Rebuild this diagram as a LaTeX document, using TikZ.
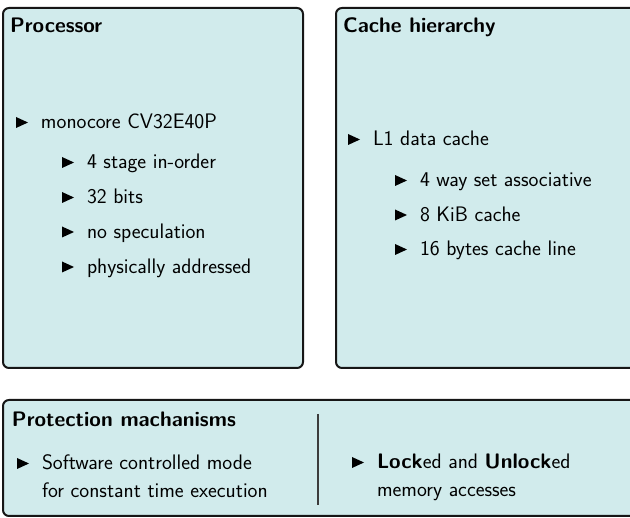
\documentclass[tikz,border=0pt]{standalone}
\usepackage{fontspec}
\definecolor{panelfill}{RGB}{209,235,236}
\definecolor{panelline}{RGB}{22,22,22}
\definecolor{rulegray}{RGB}{60,60,60}
\tikzset{
  panel/.style={draw=panelline, fill=panelfill, line width=2pt, rounded corners=6pt},
  txt/.style={anchor=base west, inner sep=0pt, outer sep=0pt, text=black,
    font=\sffamily\fontsize{21}{25}\selectfont},
  ttl/.style={txt, font=\sffamily\bfseries\fontsize{21}{25}\selectfont},
  bul/.pic={\fill[black] (-25,-1) -- (-25,-12) -- (-13,-6.5) -- cycle;}
}
\begin{document}
\begin{tikzpicture}[x=1pt, y=-1pt]
\useasboundingbox (0,0) rectangle (630,518);
\clip (0,0) rectangle (630,518);

% three panels
\draw[panel] (3,8) rectangle (303,368);
\draw[panel] (336,8) rectangle (650,368);
\draw[panel] (3,400) rectangle (650,516);

% processor
\node[ttl] (ptitle) at (10,33) {Processor};
\node[txt] (core) at (41,129) {monocore CV32E40P};
\node[txt] (p1) at (87,169) {4 stage in-order};
\node[txt] (p2) at (87,204) {32 bits};
\node[txt] (p3) at (87,238.5) {no speculation};
\node[txt] (p4) at (87,273.5) {physically addressed};
\foreach \n in {core,p1,p2,p3,p4} \pic at (\n.base west) {bul};

% cache hierarchy
\node[ttl] (ctitle) at (343,33) {Cache hierarchy};
\node[txt] (l1) at (373,146) {L1 data cache};
\node[txt] (c1) at (420,187) {4 way set associative};
\node[txt] (c2) at (420,221.5) {8 KiB cache};
\node[txt] (c3) at (420,256) {16 bytes cache line};
\foreach \n in {l1,c1,c2,c3} \pic at (\n.base west) {bul};

% protection mechanisms
\node[ttl] (mtitle) at (12,427) {Protection machanisms};
\node[txt] (sw) at (42,470) {Software controlled mode};
\node[txt] (sw2) at (42,498) {for constant time execution};
\node[txt] (lk) at (377,469) {\textbf{Lock}ed and \textbf{Unlock}ed};
\node[txt] (lk2) at (377,497) {memory accesses};
\foreach \n in {sw,lk} \pic at (\n.base west) {bul};

\coordinate (divtop) at (318,414);
\coordinate (divbot) at (318,505);
\draw[rulegray, line width=1.2pt] (divtop) -- (divbot);
\end{tikzpicture}
\end{document}
